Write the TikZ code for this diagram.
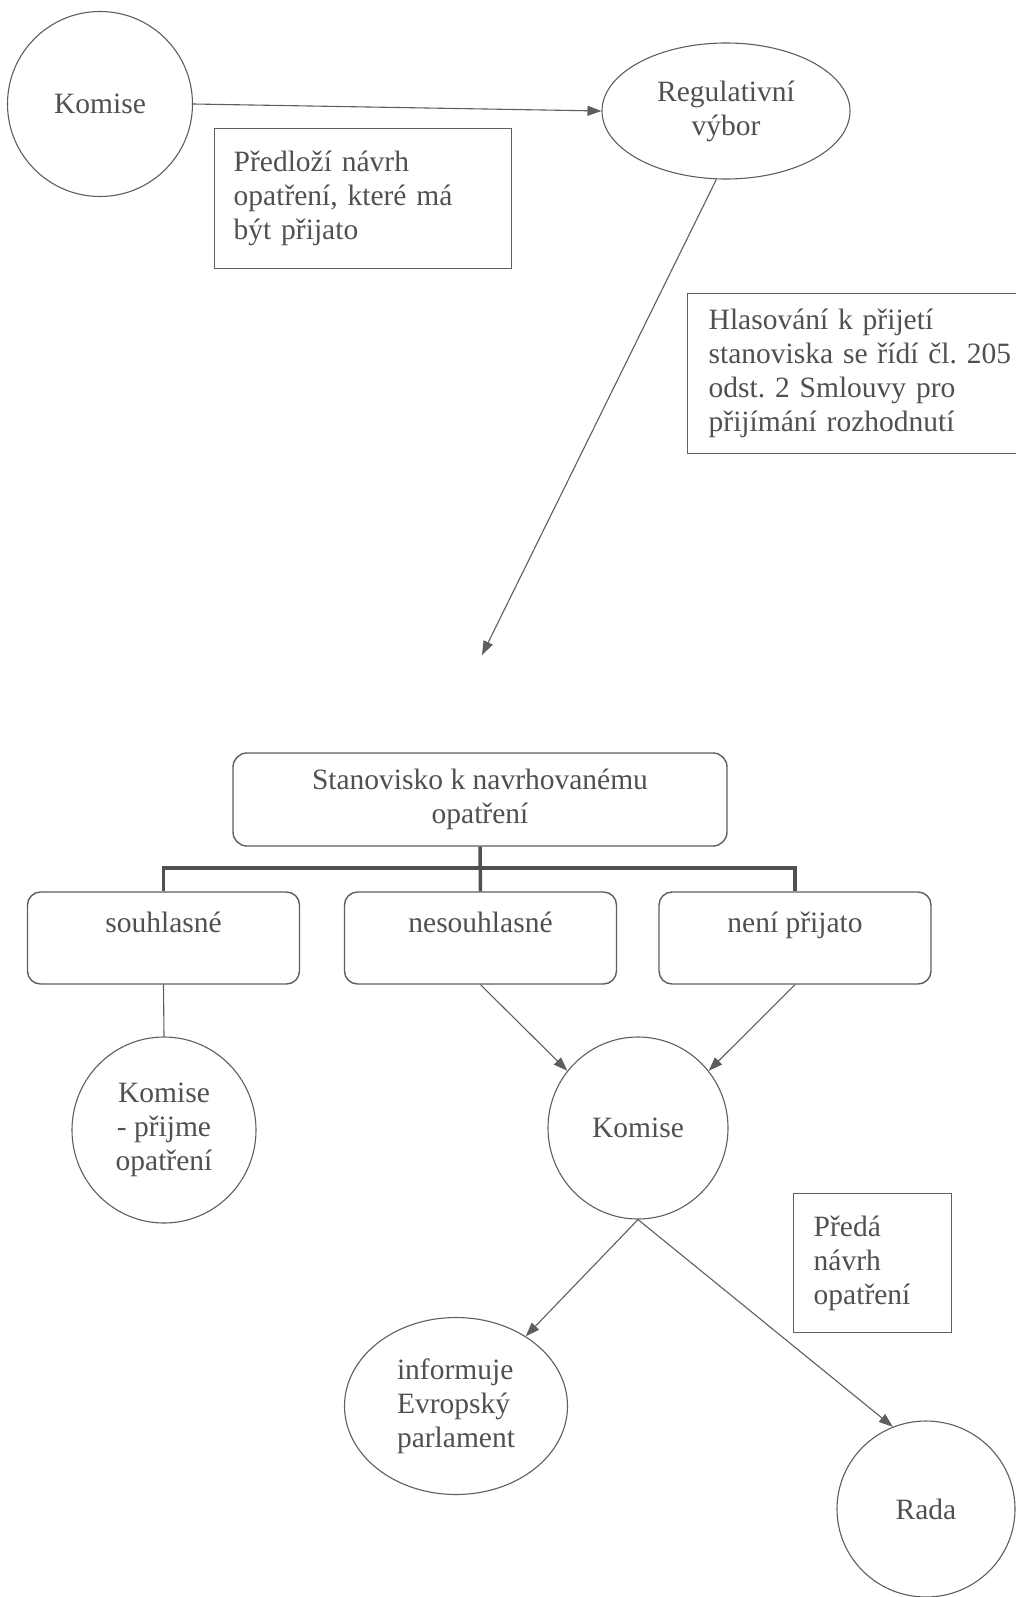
\documentclass[tikz,border=0pt]{standalone}
\usepackage{fontspec}
\setmainfont{Liberation Serif}
\usetikzlibrary{shapes.geometric,arrows.meta}
\frenchspacing

\definecolor{inkgray}{HTML}{505050}
\definecolor{edgegray}{HTML}{5E5E5E}

\tikzset{
  oval/.style={ellipse, draw=edgegray, line width=1.1pt, inner sep=0pt, align=center, text=inkgray},
  note/.style={rectangle, draw=edgegray, line width=1.4pt, inner ysep=0pt, align=left, anchor=north west, text=inkgray},
  headbox/.style={rectangle, rounded corners=14pt, draw=edgegray, line width=1.4pt, inner sep=0pt, align=center, text=inkgray},
  choice/.style={rectangle, rounded corners=13pt, draw=edgegray, line width=1.4pt, inner sep=0pt,
    minimum width=272pt, text height=40pt, text depth=52pt, text=inkgray},
  link/.style={draw=edgegray, line width=1.1pt, -{Triangle[length=14pt,width=10pt]}},
  plain/.style={draw=edgegray, line width=1.1pt},
  tree/.style={draw=inkgray, line width=3.5pt}
}

\begin{document}
\begin{tikzpicture}[x=1pt, y=-1pt, font=\fontsize{29.5}{34}\selectfont]
        \useasboundingbox (0,0) rectangle (1015,1597);

        % Top: Komise and the committee
        \node[oval, minimum width=185pt, minimum height=185pt] (kom1) at (100,104) {Komise};
        \node[oval, minimum width=248pt, minimum height=136pt] (reg) at (726,111) {Regulativní\\výbor};
        \node[note, text width=259pt, inner xsep=19pt, minimum height=140pt] (predlozi) at (214,128)
            {Předloží návrh\\opatření, které má\\být přijato};
        \draw[link] (kom1.east) -- (reg.west);

        % Vote box and the long arrow down
        \node[note, text width=311pt, inner xsep=21pt, minimum height=160pt] (hlasovani) at (687,293)
            {Hlasování k přijetí\\stanoviska se řídí čl. 205\\odst. 2 Smlouvy pro\\přijímání rozhodnutí};
        \coordinate (tip) at (482,655);
        \draw[link] (reg.262) -- (tip);

        % Opinion and its three outcomes
        \node[headbox, minimum width=494pt, minimum height=93pt] (stan) at (480,799.5)
            {Stanovisko k navrhovanému\\opatření};
        \node[choice] (souh) at (163.5,938) {souhlasné};
        \node[choice] (neso) at (480.5,938) {nesouhlasné};
        \node[choice] (nepr) at (795,938) {není přijato};
        \coordinate (bar) at (480,868);
        \draw[tree] (stan.south) -- (neso.north);
        \draw[tree] (souh.north) |- (bar) -| (nepr.north);

        % Second level
        \node[oval, minimum width=184pt, minimum height=186pt] (kom3) at (164,1130) {Komise\\- přijme\\opatření};
        \node[oval, minimum width=180pt, minimum height=182pt] (kom2) at (638,1128) {Komise};
        \draw[plain] (souh.south) -- (kom3.north);
        \draw[link] (neso.south) -- (kom2.141);
        \draw[link] (nepr.south) -- (kom2.39);

        % Bottom: Parliament and Council
        \node[note, text width=118pt, inner xsep=20pt, minimum height=139pt] (preda) at (793,1193)
            {Předá\\návrh\\opatření};
        \node[oval, align=left, minimum width=223pt, minimum height=177pt] (inform) at (456,1406)
            {informuje\\Evropský\\parlament};
        \node[oval, minimum width=178pt, minimum height=176pt] (rada) at (926,1509) {Rada};
        \draw[link] (kom2.south) -- (inform.45);
        \draw[link] (kom2.south) -- (rada.112);
\end{tikzpicture}
\end{document}
